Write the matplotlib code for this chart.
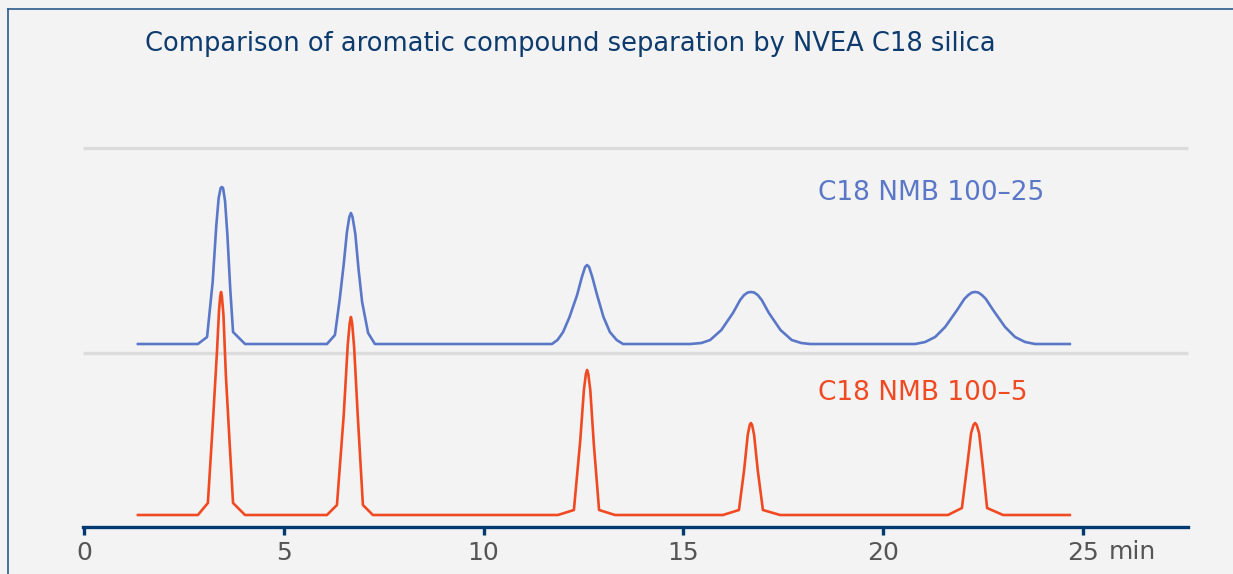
import matplotlib
matplotlib.use("Agg")
import matplotlib.pyplot as plt
from matplotlib.lines import Line2D

# retention time (min) and signal above baseline
blue_time = [1.35, 2.85, 3.08, 3.22, 3.31, 3.37, 3.42, 3.45, 3.48, 3.53, 3.59, 3.66, 3.73, 4.03,
             6.08, 6.28, 6.40, 6.50, 6.58, 6.64, 6.68, 6.72, 6.79, 6.87, 6.96, 7.11, 7.28,
             11.71, 11.85, 11.99, 12.15, 12.34, 12.46, 12.54, 12.59, 12.64, 12.72, 12.84, 13.00, 13.16, 13.33, 13.49,
             15.17, 15.45, 15.67, 15.95, 16.24, 16.42, 16.52, 16.61, 16.69, 16.77, 16.86, 16.96, 17.14, 17.43, 17.71, 17.95, 18.17,
             20.80, 21.05, 21.30, 21.55, 21.85, 22.03, 22.13, 22.22, 22.30, 22.38, 22.47, 22.57, 22.75, 23.05, 23.30, 23.55, 23.80,
             24.67]
blue_signal = [0, 0, 7, 62, 118, 146, 156, 157, 156, 143, 108, 55, 12, 0,
               0, 9, 45, 80, 112, 127, 131, 127, 110, 75, 42, 11, 0,
               0, 4, 12, 27, 49, 67, 77, 79, 77, 67, 49, 27, 12, 4, 0,
               0, 1, 4, 14, 31, 44, 49, 51.5, 52, 51.5, 49, 44, 31, 14, 4, 1, 0,
               0, 2, 7, 17, 34, 45, 49, 51.5, 52, 51.5, 49, 45, 34, 17, 7, 2, 0,
               0]

red_time = [1.35, 2.85, 3.10, 3.22, 3.33, 3.38, 3.41, 3.43, 3.45, 3.49, 3.55, 3.65, 3.73, 4.03,
            6.08, 6.33, 6.50, 6.60, 6.65, 6.68, 6.71, 6.76, 6.85, 6.98, 7.23,
            11.86, 12.26, 12.42, 12.51, 12.56, 12.59, 12.62, 12.67, 12.76, 12.89, 13.29,
            15.99, 16.39, 16.52, 16.61, 16.66, 16.69, 16.72, 16.77, 16.86, 16.99, 17.42,
            21.62, 21.97, 22.11, 22.20, 22.26, 22.30, 22.34, 22.40, 22.49, 22.60, 23.00,
            24.67]
red_signal = [0, 0, 12, 89, 165, 205, 219, 223, 219, 200, 140, 68, 12, 0,
              0, 10, 100, 170, 192, 198, 192, 168, 100, 10, 0,
              0, 5, 75, 125, 141, 145, 141, 125, 70, 5, 0,
              0, 5, 45, 80, 90, 92, 90, 80, 45, 5, 0,
              0, 7, 52, 82, 90, 92, 90, 82, 50, 7, 0,
              0]

blue_offset = 183
red_offset = 12
grid_levels = [174, 379]
tick_values = [0, 5, 10, 15, 20, 25]
tick_labels = ["0", "5", "10", "15", "20", "25"]

blue = "#5b78c8"
red = "#f04a23"
navy = "#003a70"
bg = "#f3f3f3"

fig = plt.figure(figsize=(12.33, 5.74), dpi=100, facecolor=bg)
ax = fig.add_axes([0, 0, 1, 1], facecolor=bg)
ax.set_xlim(-2.102, 28.754)
ax.set_ylim(-47, 527)

for g in grid_levels:
    ax.plot([-0.03, 27.63], [g, g], color="#dcdcdc", lw=2.4, solid_capstyle="butt", zorder=1)

ax.plot(blue_time, [v + blue_offset for v in blue_signal], color=blue, lw=1.9,
        solid_joinstyle="round", zorder=3)
ax.plot(red_time, [v + red_offset for v in red_signal], color=red, lw=1.9,
        solid_joinstyle="round", zorder=3)

ax.text(18.37, 334, "C18 NMB 100\u201325", color=blue, fontsize=19, ha="left", va="center")
ax.text(18.37, 134, "C18 NMB 100\u20135", color=red, fontsize=19, ha="left", va="center")

for side in ["top", "right", "left"]:
    ax.spines[side].set_visible(False)
ax.spines["bottom"].set_position(("data", 0))
ax.spines["bottom"].set_bounds(-0.03, 27.63)
ax.spines["bottom"].set_color(navy)
ax.spines["bottom"].set_linewidth(2.4)
ax.set_yticks([])
ax.set_xticks(tick_values)
ax.set_xticklabels(tick_labels)
ax.tick_params(axis="x", direction="out", length=6, width=2.4, color=navy,
               labelsize=18, labelcolor="#555555", pad=4)
ax.text(25.65, -25, "min", color="#555555", fontsize=18, ha="left", va="center")

fig.text(145 / 1233, 1 - 44 / 574, "Comparison of aromatic compound separation by NVEA C18 silica",
         color="#0d3b6e", fontsize=18.5, ha="left", va="center")

# frame line on top and left
fig.add_artist(Line2D([8 / 1233, 8 / 1233], [0, 1 - 9 / 574], transform=fig.transFigure,
                      color="#2b5b8c", lw=1.2))
fig.add_artist(Line2D([8 / 1233, 1], [1 - 9 / 574, 1 - 9 / 574], transform=fig.transFigure,
                      color="#2b5b8c", lw=1.2))

fig.savefig("out.png", dpi=100, facecolor=bg)
